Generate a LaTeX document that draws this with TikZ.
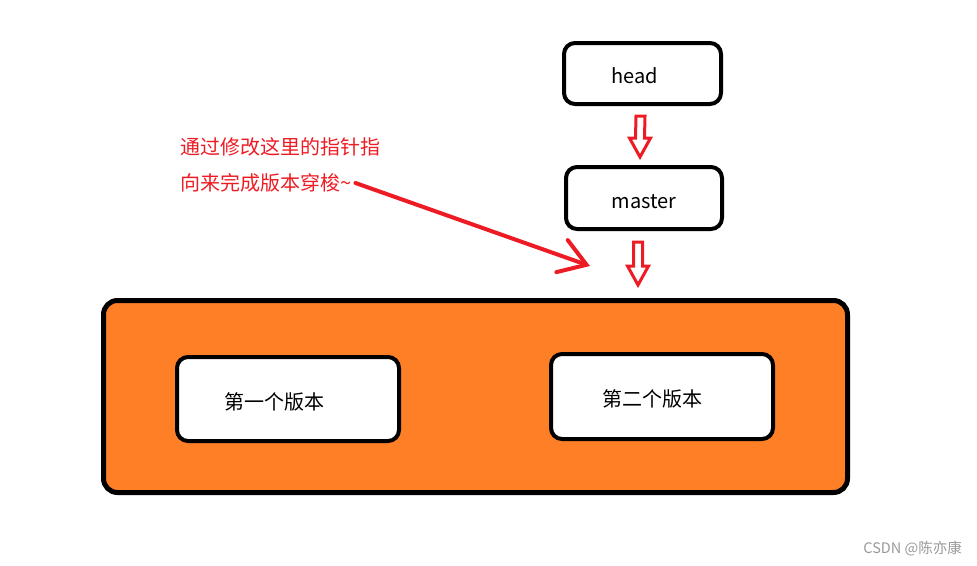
\documentclass[tikz,border=0pt]{standalone}
\usepackage{fontspec}
\setmainfont{Noto Sans CJK SC}
\usetikzlibrary{arrows.meta,positioning,calc}
\definecolor{paintred}{HTML}{ED1C24}
\definecolor{paintorange}{HTML}{FF7F27}

\tikzset{
  refbox/.style={draw, line width=4pt, rounded corners=11pt, fill=white, text height=22pt, text depth=2pt, font=\fontsize{20}{23}\selectfont},
  repo/.style={draw, line width=5pt, rounded corners=14pt, fill=paintorange},
  pointer/.style={draw=paintred, line width=3pt, line join=miter},
  note/.style={text=paintred, inner sep=0pt, anchor=west, font=\fontsize{20}{23}\selectfont}
}
\newcommand{\hollowarrow}[2]{%
  \draw[pointer] ($(#1)+(-4.5,0)$) -- ($(#2)+(-4.5,-19)$) -- ($(#2)+(-10.5,-19)$) -- (#2)
    -- ($(#2)+(10.5,-19)$) -- ($(#2)+(4.5,-19)$) -- ($(#1)+(4.5,0)$) -- cycle;}

\begin{document}
\begin{tikzpicture}[x=1pt, y=-1pt]
         \useasboundingbox (0,0) rectangle (977,565);
         % Define nodes
         \node[refbox, minimum width=157pt, minimum height=61pt] (head) at (642.5,73.5) {head\hspace{16pt}\null};
         \node[refbox, minimum width=156pt, minimum height=62pt] (master) at (644,198) {master};
         \node[repo, minimum width=744pt, minimum height=192pt] (repo) at (475.5,396.5) {};
         \node[refbox, minimum width=222pt, minimum height=84pt] (v1) at (288,399) {第一个版本\hspace{28pt}\null};
         \node[refbox, minimum width=222pt, minimum height=85pt] (v2) at (662,396.5) {第二个版本\hspace{20pt}\null};
         \node[note] (note1) at (180,147) {通过修改这里的指针指};
         \node[note] (note2) at (180,183) {向来完成版本穿梭\textasciitilde};
         \node[text=black!40, anchor=east, inner sep=0pt, font=\fontsize{14.5}{16}\selectfont] (mark) at (962,549) {CSDN @陈亦康};
         \coordinate (a1) at ($(head.south)+(-2,10)$);
         \coordinate (b1) at ($(master.north)+(-4,-8)$);
         \coordinate (a2) at ($(master.south)+(-6,11)$);
         \coordinate (b2) at ($(a2)+(0,43)$);
         \coordinate (tip) at (590,266);

         % Draw edges
         \hollowarrow{a1}{b1}
         \hollowarrow{a2}{b2}
         \draw[paintred, line width=4pt, line cap=round, -{Straight Barb[length=26pt, width=34pt, line cap=round]}] ($(note2.east)+(4,0)$) -- (tip);
      \end{tikzpicture}
\end{document}
